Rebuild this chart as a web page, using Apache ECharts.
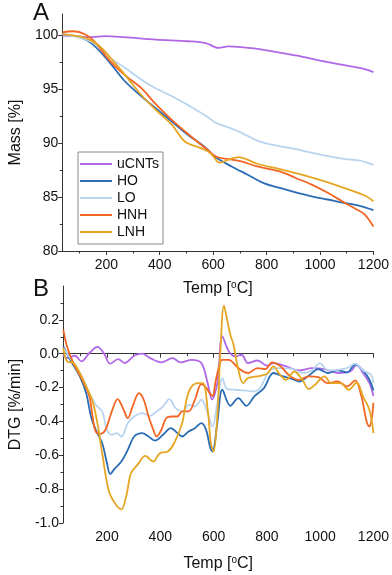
<!DOCTYPE html>
<html><head><meta charset="utf-8">
<script src="https://cdn.jsdelivr.net/npm/echarts@6/dist/echarts.min.js"></script>
<style>html,body{margin:0;padding:0;background:#fff}#c{width:392px;height:575px}</style>
</head><body><div id="c"></div>
<script>
const seriesNames = ['uCNTs','HO','LO','HNH','LNH'];
const colors = ['#B068E8','#2A6DB4','#B9D4EE','#F26522','#E6A623'];

const xMajorTicks = [200,400,600,800,1000,1200];
const xMinorTicks = [100,300,500,700,900,1100];
const massMajorTicks = [80,85,90,95,100];
const massMinorTicks = [82.5,87.5,92.5,97.5];
const dtgMajorTicks = [-1,-0.8,-0.6,-0.4,-0.2,0,0.2];
const dtgMinorTicks = [-0.9,-0.7,-0.5,-0.3,-0.1,0.1,0.3];

// Mass [%] vs Temp
const massUCNTs = [[36,100.0],[80,99.95],[147,99.85],[194,99.94],[266,99.85],[386,99.63],[506,99.47],[572,99.3],[600,99.0],[620,98.85],[657,98.99],[705,98.92],[789,98.68],[909,98.15],[1029,97.54],[1149,97.0],[1180,96.8],[1200,96.6]];
const massHO = [[36,100.1],[100,99.85],[147,99.23],[206,97.7],[266,95.85],[326,94.47],[386,93.24],[446,92.0],[506,90.77],[566,89.7],[610,88.7],[669,87.85],[729,87.08],[789,86.3],[849,85.86],[909,85.45],[969,85.08],[1029,84.78],[1089,84.47],[1149,84.2],[1200,83.8]];
const massLO = [[36,100.1],[100,99.8],[147,99.38],[182,98.77],[218,97.85],[266,97.08],[326,96.0],[386,95.08],[446,94.37],[506,93.54],[578,92.47],[609,91.9],[657,91.48],[705,90.99],[765,90.25],[825,89.85],[909,89.46],[993,89.0],[1089,88.56],[1149,88.38],[1200,88.0]];
const massHNH = [[36,100.3],[76,100.4],[122,100.1],[158,99.38],[206,97.85],[242,96.93],[278,96.15],[332,95.1],[386,93.6],[446,92.15],[506,90.86],[578,89.4],[612,88.75],[657,88.53],[705,88.31],[765,87.85],[849,87.39],[909,86.78],[969,86.16],[1029,85.4],[1089,84.53],[1137,83.86],[1167,83.4],[1200,82.26]];
const massLNH = [[36,100.1],[80,100.0],[122,99.78],[172,99.08],[218,97.85],[266,96.47],[326,94.62],[386,93.08],[446,91.7],[494,90.16],[554,89.55],[590,89.08],[614,88.35],[625,88.2],[657,88.47],[693,88.72],[765,88.1],[849,87.6],[945,87.0],[1029,86.38],[1125,85.55],[1173,85.08],[1200,84.62]];

// DTG [%/min] vs Temp
const dtgUCNTs = [[36,-0.006],[50,-0.026],[80,-0.012],[104,-0.045],[134,0.004],[164,0.04],[188,0.004],[212,-0.059],[242,-0.032],[266,-0.055],[302,-0.012],[332,0.0],[362,-0.026],[404,-0.051],[446,-0.026],[476,-0.051],[518,-0.036],[554,-0.055],[578,-0.174],[594,-0.27],[614,-0.174],[633,0.103],[657,0.014],[681,-0.016],[705,-0.006],[729,-0.055],[765,-0.04],[801,-0.071],[825,-0.055],[873,-0.075],[921,-0.099],[969,-0.085],[1017,-0.091],[1065,-0.114],[1113,-0.105],[1137,-0.065],[1161,-0.114],[1185,-0.174],[1200,-0.25]];
const dtgHO = [[36,0.043],[62,-0.036],[98,-0.134],[122,-0.233],[140,-0.371],[158,-0.45],[182,-0.529],[200,-0.647],[212,-0.71],[230,-0.677],[254,-0.637],[278,-0.568],[302,-0.489],[332,-0.469],[356,-0.489],[380,-0.513],[410,-0.479],[440,-0.44],[464,-0.469],[482,-0.489],[506,-0.46],[530,-0.44],[554,-0.41],[572,-0.45],[588,-0.558],[596,-0.578],[614,-0.41],[633,-0.213],[663,-0.308],[693,-0.262],[723,-0.308],[753,-0.252],[789,-0.203],[825,-0.114],[861,-0.134],[897,-0.15],[921,-0.164],[957,-0.13],[993,-0.091],[1029,-0.114],[1065,-0.099],[1101,-0.11],[1131,-0.065],[1161,-0.099],[1185,-0.154],[1200,-0.217]];
const dtgLO = [[36,0.034],[62,-0.026],[98,-0.114],[134,-0.233],[158,-0.302],[182,-0.341],[200,-0.45],[218,-0.479],[236,-0.469],[254,-0.489],[278,-0.41],[302,-0.371],[332,-0.351],[362,-0.367],[386,-0.341],[410,-0.312],[434,-0.268],[458,-0.322],[482,-0.341],[506,-0.302],[530,-0.312],[554,-0.272],[578,-0.351],[596,-0.43],[614,-0.292],[633,-0.144],[651,-0.209],[681,-0.213],[717,-0.217],[753,-0.223],[777,-0.197],[813,-0.095],[849,-0.085],[897,-0.091],[933,-0.114],[969,-0.099],[999,-0.055],[1029,-0.099],[1065,-0.095],[1101,-0.085],[1131,-0.059],[1161,-0.099],[1191,-0.124],[1200,-0.174]];
const dtgHNH = [[36,0.142],[50,0.043],[74,-0.055],[110,-0.164],[134,-0.252],[146,-0.371],[158,-0.46],[176,-0.473],[194,-0.45],[218,-0.341],[240,-0.268],[260,-0.322],[278,-0.381],[296,-0.312],[320,-0.233],[338,-0.272],[356,-0.371],[374,-0.45],[386,-0.489],[404,-0.45],[422,-0.381],[446,-0.371],[464,-0.371],[482,-0.341],[506,-0.341],[530,-0.272],[554,-0.18],[572,-0.2],[584,-0.23],[596,-0.25],[608,-0.16],[620,-0.08],[632,-0.036],[657,-0.036],[693,-0.085],[729,-0.114],[765,-0.085],[795,-0.091],[819,-0.051],[849,-0.071],[885,-0.13],[921,-0.154],[957,-0.134],[993,-0.138],[1029,-0.174],[1065,-0.164],[1101,-0.193],[1131,-0.158],[1155,-0.252],[1173,-0.391],[1185,-0.43],[1194,-0.38],[1200,-0.29]];
const dtgLNH = [[36,0.034],[50,-0.045],[74,-0.055],[98,-0.114],[122,-0.193],[146,-0.282],[164,-0.41],[182,-0.588],[206,-0.805],[230,-0.884],[254,-0.919],[272,-0.844],[290,-0.706],[314,-0.657],[344,-0.604],[374,-0.637],[398,-0.588],[428,-0.578],[452,-0.529],[482,-0.41],[500,-0.262],[518,-0.193],[542,-0.174],[560,-0.174],[578,-0.331],[590,-0.529],[600,-0.578],[614,-0.371],[626,0.024],[639,0.284],[651,0.2],[663,0.112],[675,0.053],[693,-0.095],[711,-0.174],[729,-0.144],[765,-0.134],[801,-0.118],[825,-0.075],[849,-0.124],[873,-0.154],[903,-0.105],[933,-0.154],[957,-0.209],[981,-0.183],[1017,-0.134],[1041,-0.174],[1077,-0.174],[1107,-0.213],[1137,-0.17],[1161,-0.252],[1185,-0.331],[1200,-0.469]];

const massData = [massUCNTs, massHO, massLO, massHNH, massLNH];
const dtgData = [dtgUCNTs, dtgHO, dtgLO, dtgHNH, dtgLNH];

const FONT = 'Liberation Sans, Arial, sans-serif';
const axisCol = '#333';
const txtCol = '#111';

function xAxisPair(gridIndex, gap){
  return [{
    type:'value', gridIndex, min:35, max:1200, position:'bottom',
    axisLine:{show:true, lineStyle:{color:axisCol, width:1}},
    axisTick:{show:true, inside:false, length:4, customValues:xMajorTicks, lineStyle:{color:axisCol}},
    axisLabel:{show:true, customValues:xMajorTicks, margin:7, fontSize:14, color:txtCol, fontFamily:FONT, formatter:v=>String(v)},
    splitLine:{show:false},
    name:'Temp [{s|o}C]', nameLocation:'middle', nameGap:gap,
    nameTextStyle:{fontSize:16, color:txtCol, fontFamily:FONT, lineHeight:18,
      rich:{s:{fontSize:10, verticalAlign:'top', lineHeight:18, color:txtCol, fontFamily:FONT}}}
  },{
    type:'value', gridIndex, min:35, max:1200, position:'bottom',
    axisLine:{show:false}, axisLabel:{show:false}, splitLine:{show:false},
    axisTick:{show:true, length:2.5, customValues:xMinorTicks, lineStyle:{color:axisCol}}
  }];
}
function yAxisPair(gridIndex, min, max, major, minor, fmt, name){
  return [{
    type:'value', gridIndex, min, max, position:'left',
    axisLine:{show:true, lineStyle:{color:axisCol, width:1}},
    axisTick:{show:true, length:4, customValues:major, lineStyle:{color:axisCol}},
    axisLabel:{show:true, customValues:major, margin:4, fontSize:14, color:txtCol, fontFamily:FONT, formatter:fmt},
    splitLine:{show:false},
    name, nameLocation:'middle', nameGap:33, nameRotate:90,
    nameTextStyle:{fontSize:16, color:txtCol, fontFamily:FONT}
  },{
    type:'value', gridIndex, min, max, position:'left',
    axisLine:{show:false}, axisLabel:{show:false}, splitLine:{show:false},
    axisTick:{show:true, length:2.5, customValues:minor, lineStyle:{color:axisCol}}
  }];
}

const series = [];
seriesNames.forEach((n,i)=>{
  series.push({name:n, type:'line', xAxisIndex:0, yAxisIndex:0, data:massData[i], smooth:0.35,
    symbol:'none', lineStyle:{width:1.8, color:colors[i]}, itemStyle:{color:colors[i]}, z:2+i});
});
seriesNames.forEach((n,i)=>{
  series.push({name:n, type:'line', xAxisIndex:2, yAxisIndex:2, data:dtgData[i], smooth:0.35,
    symbol:'none', lineStyle:{width:1.8, color:colors[i]}, itemStyle:{color:colors[i]}, z:2+i});
});

const chart = echarts.init(document.getElementById('c'), null, {renderer:'canvas'});
chart.setOption({
  animation:false,
  backgroundColor:'#fff',
  textStyle:{fontFamily:FONT},
  grid:[
    {left:50, top:14, width:324, height:237},
    {left:50, top:286, width:324, height:237}
  ],
  xAxis:[...xAxisPair(0,29), ...xAxisPair(1,32)],
  yAxis:[
    ...yAxisPair(0,80,102,massMajorTicks,massMinorTicks,v=>String(v),'Mass [%]'),
    ...yAxisPair(1,-1,0.4,dtgMajorTicks,dtgMinorTicks,v=>v.toFixed(1),'DTG [%/min]')
  ],
  legend:{
    show:true, orient:'vertical', left:78, top:152, data:seriesNames,
    icon:'rect', itemWidth:32, itemHeight:2, itemGap:1, padding:[4,4,4,2],
    borderColor:'#888', borderWidth:1, backgroundColor:'#fff',
    textStyle:{fontSize:14, lineHeight:16, color:txtCol, fontFamily:FONT}
  },
  graphic:[
    {type:'text', left:33, top:1, style:{text:'A', fontSize:24, fill:txtCol, fontFamily:FONT}},
    {type:'text', left:33, top:277, style:{text:'B', fontSize:24, fill:txtCol, fontFamily:FONT}}
  ],
  series
});
</script></body></html>
